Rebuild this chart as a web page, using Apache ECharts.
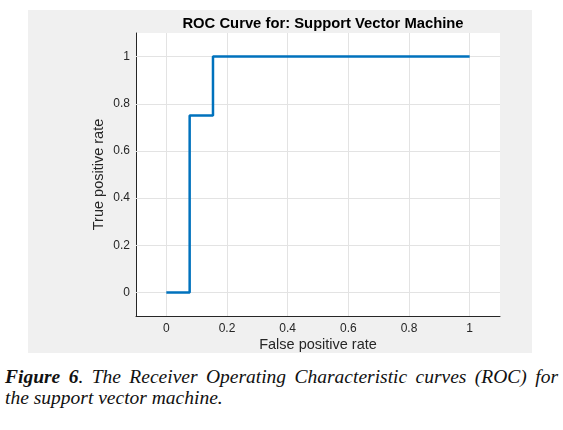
<!DOCTYPE html>
<html><head><meta charset="utf-8">
<script src="https://cdn.jsdelivr.net/npm/echarts@6/dist/echarts.min.js"></script>
<style>
html,body{margin:0;padding:0;background:#fff;}
#wrap{position:relative;width:563px;height:430px;background:#fff;}
#chart{position:absolute;left:28px;top:10px;width:504px;height:343px;}
#cap{position:absolute;left:5px;top:366px;width:553px;font-family:"Liberation Serif","DejaVu Serif",serif;font-style:italic;font-size:19.5px;line-height:21px;color:#111;text-align:justify;text-align-last:left;}
</style></head>
<body><div id="wrap"><div id="chart"></div>
<div id="cap"><b>Figure 6</b>. The Receiver Operating Characteristic curves (ROC) for the support vector machine.</div></div>
<script>
const titleText = "ROC Curve for: Support Vector Machine";
const xName = "False positive rate";
const yName = "True positive rate";
const fpr = [0, 0.0769, 0.0769, 0.1538, 0.1538, 1];
const tpr = [0, 0, 0.75, 0.75, 1, 1];
const xTicks = [0, 0.2, 0.4, 0.6, 0.8, 1];
const yTicks = [0, 0.2, 0.4, 0.6, 0.8, 1];

const chart = echarts.init(document.getElementById('chart'));
const txt = '#262626';
const ff = 'Liberation Sans, Arial, sans-serif';
const gridLines = xTicks.map(v => ({xAxis: v})).concat(yTicks.map(v => ({yAxis: v})));
chart.setOption({
  backgroundColor: '#f0f0f0',
  animation: false,
  title: {text: titleText, left: 290, top: 1, textAlign: 'center',
    textStyle: {fontFamily: ff, fontWeight: 'bold', fontSize: 14.8, color: '#000'}},
  grid: {left: 108, right: 32, top: 23, bottom: 37, show: true, backgroundColor: '#fff', borderWidth: 0,
    containLabel: false, outerBoundsMode: 'none'},
  xAxis: {type: 'value', min: -0.1, max: 1.1, name: xName, nameLocation: 'middle', nameGap: 21,
    nameMoveOverlap: false,
    nameTextStyle: {fontFamily: ff, fontSize: 14.5, color: txt},
    axisLine: {show: true, onZero: false, lineStyle: {color: txt, width: 1}},
    axisTick: {show: true, inside: true, length: 3, customValues: xTicks, lineStyle: {color: txt}},
    axisLabel: {customValues: xTicks, color: txt, fontSize: 12, fontFamily: ff, margin: 7},
    splitLine: {show: false}},
  yAxis: {type: 'value', min: -0.1, max: 1.1, name: yName, nameLocation: 'middle', nameGap: 30,
    nameMoveOverlap: false,
    nameTextStyle: {fontFamily: ff, fontSize: 14.5, color: txt},
    axisLine: {show: true, onZero: false, lineStyle: {color: txt, width: 1}},
    axisTick: {show: true, inside: true, length: 3, customValues: yTicks, lineStyle: {color: txt}},
    axisLabel: {customValues: yTicks, color: txt, fontSize: 12, fontFamily: ff, margin: 6},
    splitLine: {show: false}},
  series: [
    {type: 'line', data: [], silent: true, z: 1,
      markLine: {silent: true, z: 1, symbol: 'none', label: {show: false},
        lineStyle: {color: '#e3e3e3', width: 1, type: 'solid'}, data: gridLines}},
    {type: 'line', z: 10, data: fpr.map((x, i) => [x, tpr[i]]), showSymbol: false, symbol: 'none',
      lineStyle: {color: '#0072BD', width: 2.5}}
  ]
});
</script></body></html>
